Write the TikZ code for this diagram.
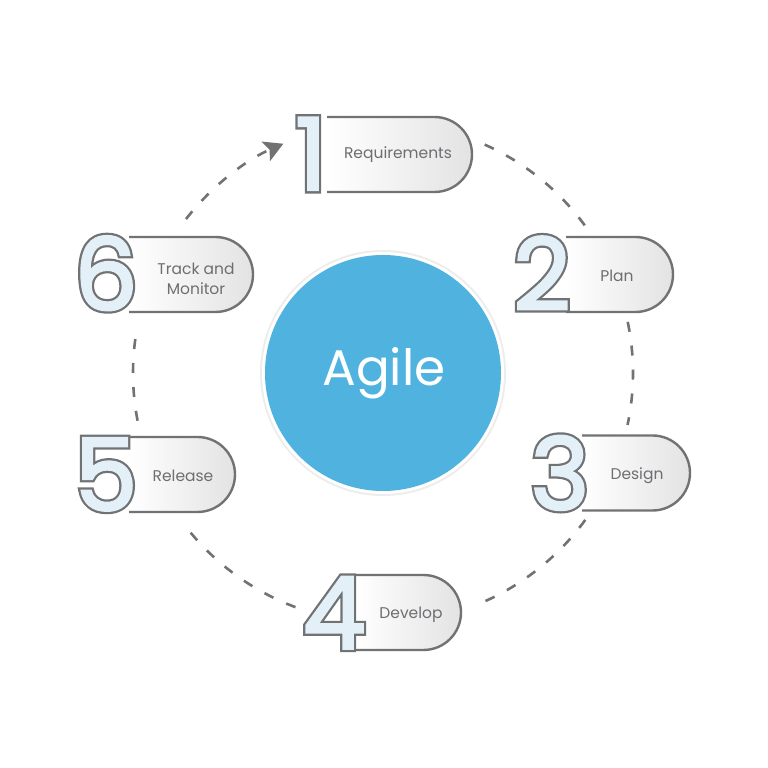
\documentclass[tikz,border=0pt]{standalone}
\usepackage{fontspec}
\setmainfont{Poppins}
\newfontfamily\digitout{Poppins}[FakeBold=7]
\newfontfamily\digitin{Poppins}[FakeBold=2.5]
\usetikzlibrary{arrows.meta,calc}
\definecolor{agileblue}{HTML}{50B3DF}
\definecolor{linegray}{HTML}{717274}
\definecolor{labelgray}{HTML}{6D6E71}
\definecolor{digitfill}{HTML}{E4F0F8}
\definecolor{pillend}{HTML}{E3E3E4}
\tikzset{
  digitback/.style={anchor=base, inner sep=0pt, text=linegray, font=\digitout\fontsize{100}{100}\selectfont},
  digitfront/.style={anchor=base, inner sep=0pt, text=digitfill, font=\digitin\fontsize{100}{100}\selectfont},
  steplabel/.style={inner sep=0pt, align=center, text=labelgray, font=\fontsize{15.5}{20}\selectfont},
  pillline/.style={draw=linegray, line width=2.4pt},
  cycleline/.style={draw=linegray, line width=2.6pt, dash pattern=on 10pt off 14pt},
}
% pill: #1 left x, #2 right x, #3 centre y
\newcommand\mypill[3]{%
  \fill[left color=white, right color=pillend] (#1,#3+37.5) -- (#2-37.5,#3+37.5)
     arc[start angle=90, end angle=-90, radius=37.5] -- (#1,#3-37.5) -- cycle;
  \draw[pillline] (#1,#3+37.5) -- (#2-37.5,#3+37.5)
     arc[start angle=90, end angle=-90, radius=37.5] -- (#1,#3-37.5);
}
% outlined digit: #1 x, #2 baseline y, #3 digit, #4 name
\newcommand\outdigit[4]{%
  \node[digitback] (#4o) at (#1,#2) {#3};
  \node[digitfront] (#4) at (#1,#2) {#3};
}
\begin{document}
\begin{tikzpicture}[x=1pt,y=1pt]
\useasboundingbox[fill=white] (0,0) rectangle (768,768);
\coordinate (c) at (383,395);
% cycle
\draw[cycleline] ($(c)+(66:250)$) arc[start angle=66, end angle=35, radius=250];
\draw[cycleline] ($(c)+(11.8:250)$) arc[start angle=11.8, end angle=-12, radius=250];
\draw[cycleline] ($(c)+(-36:250)$) arc[start angle=-36, end angle=-68, radius=250];
\draw[cycleline] ($(c)+(-110.5:250)$) arc[start angle=-110.5, end angle=-141, radius=250];
\draw[cycleline] ($(c)+(-169:250)$) arc[start angle=-169, end angle=-191, radius=250];
\draw[cycleline, -{Stealth[length=19pt, width=21pt, inset=4pt, fill=linegray]}] ($(c)+(142:250)$) arc[start angle=142, end angle=113.5, radius=250];
% centre
\fill[gray!14] (c) circle[radius=123];
\fill[white] (c) circle[radius=121];
\node[circle, fill=agileblue, minimum size=236pt, inner sep=0pt] (agile) at (c) {};
\node[text=white, font=\fontsize{50}{50}\selectfont] (agiletext) at (384,395) {Agile};
% pills
\mypill{327}{472}{613.5}
\mypill{566}{673}{493.5}
\mypill{582}{690}{295}
\mypill{356}{461}{155.5}
\mypill{129}{235}{293.5}
\mypill{129}{253}{493.5}
% digits
\outdigit{311}{578}{1}{d1}
\outdigit{542}{458}{2}{d2}
\outdigit{560}{258.5}{3}{d3}
\outdigit{334}{119.5}{4}{d4}
\outdigit{106}{257.5}{5}{d5}
\outdigit{106}{458}{6}{d6}
% labels
\node[steplabel] (l1) at (398,613.5) {Requirements};
\node[steplabel] (l2) at (617,492.5) {Plan};
\node[steplabel] (l3) at (637,292.5) {Design};
\node[steplabel] (l4) at (411,153.5) {Develop};
\node[steplabel] (l5) at (183,292.5) {Release};
\node[steplabel] (l6) at (196,489.5) {Track and\\Monitor};
\end{tikzpicture}
\end{document}
